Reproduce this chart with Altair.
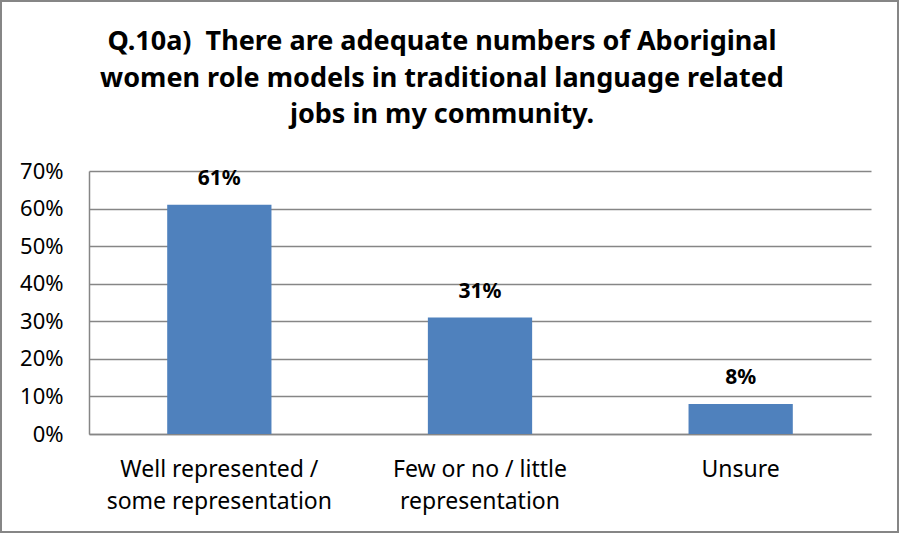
import altair as alt
import pandas as pd

categories = ["Well represented / some representation", "Few or no / little representation", "Unsure"]
values = [0.61, 0.31, 0.08]
value_labels = ["61%", "31%", "8%"]
y_ticks = [0, 0.1, 0.2, 0.3, 0.4, 0.5, 0.6, 0.7]
title_lines = ["Q.10a)\u00a0 There are adequate numbers of Aboriginal",
               "women role models in traditional language related",
               "jobs in my community."]

df = pd.DataFrame({"cat": categories, "value": values, "label": value_labels})
one = pd.DataFrame({"a": [0]})

FONT = "Noto Sans"
W, H = 782, 263

label_expr = ("datum.value == '" + categories[0] + "' ? ['Well represented /', 'some representation'] : "
              "datum.value == '" + categories[1] + "' ? ['Few or no / little', 'representation'] : datum.value")

x_enc = alt.X("cat:N", sort=categories, title=None,
              scale=alt.Scale(paddingInner=0.6, paddingOuter=0.3),
              axis=alt.Axis(labelAngle=0, labelFont=FONT, labelFontSize=23, labelColor="black",
                            labelLineHeight=32, labelPadding=24, ticks=False, labelLimit=400,
                            domainColor="#868686", domainWidth=1.5, labelExpr=label_expr))

y_enc = alt.Y("value:Q", title=None,
              scale=alt.Scale(domain=[0, 0.7], nice=False),
              axis=alt.Axis(values=y_ticks, format=".0%", labelFont=FONT, labelFontSize=22,
                            labelColor="black", labelPadding=26, ticks=False,
                            grid=True, gridColor="#868686", gridWidth=1.5,
                            domainColor="#868686", domainWidth=1.5))

bars = alt.Chart(df).mark_bar(color="#4F81BD").encode(x=x_enc, y=y_enc)

text = alt.Chart(df).mark_text(font=FONT, fontSize=21, fontWeight="bold", color="black",
                               baseline="alphabetic", dy=-20).encode(
    x=x_enc, y=y_enc, text="label:N",
)

title = alt.Chart(one).mark_text(font=FONT, fontSize=27, fontWeight="bold", color="black",
                                 baseline="alphabetic", align="center", lineHeight=36.5).encode(
    x=alt.value(353), y=alt.value(-121), text=alt.value(title_lines)
)

border = alt.Chart(one).mark_rect(fill=None, stroke="#868686", strokeWidth=2).encode(
    x=alt.value(-88), x2=alt.value(W + 27), y=alt.value(-170), y2=alt.value(H + 98)
)

chart = alt.layer(bars, text, title, border).properties(
    width=W, height=H,
    padding={"left": 89, "top": 171, "right": 28, "bottom": 99},
    autosize=alt.AutoSizeParams(type="none"),
    background="white",
).configure_view(stroke=None)

chart.save("out.html", embed_options={"renderer": "svg", "actions": False})
